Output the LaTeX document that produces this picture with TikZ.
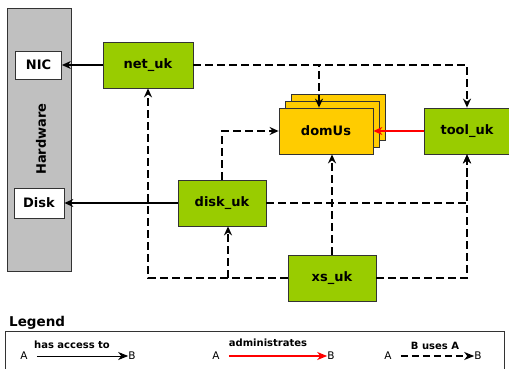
\documentclass[tikz,border=0pt]{standalone}
\usepackage{fontspec}
\setmainfont{DejaVu Sans}
\usetikzlibrary{arrows.meta}
\definecolor{ukgreen}{HTML}{99CC00}
\definecolor{domyellow}{HTML}{FFCC00}
\definecolor{hwgray}{HTML}{C0C0C0}
\definecolor{edge}{HTML}{333333}
\tikzset{
  ukbox/.style={draw=edge, line width=0.8pt, fill=ukgreen, minimum width=89pt, minimum height=46pt,
    inner sep=0pt, font=\fontsize{13}{15}\selectfont\bfseries},
  dombox/.style={draw=edge, line width=0.8pt, fill=domyellow, minimum width=94pt, minimum height=46pt,
    inner sep=0pt, font=\fontsize{13}{15}\selectfont\bfseries},
  hwbox/.style={draw=edge, line width=0.8pt, fill=white, inner sep=0pt, font=\fontsize{13}{15}\selectfont\bfseries},
  tip/.style={-{Stealth[length=9pt,width=8pt,inset=3pt]}},
  access/.style={tip, line width=1.1pt, black},
  admin/.style={tip, line width=1.1pt, red},
  dep/.style={tip, line width=1.5pt, black, dash pattern=on 8pt off 4pt},
  legtext/.style={font=\fontsize{10}{12}\selectfont\bfseries, inner sep=0pt},
  legab/.style={font=\fontsize{10.5}{12}\selectfont, inner sep=0pt},
  legarrow/.style={-{Stealth[length=10pt,width=8pt,inset=3pt]}, line width=1pt},
}
\begin{document}
\begin{tikzpicture}[x=1pt,y=-1pt]
\useasboundingbox (0,0) rectangle (509,369);

% hardware column with its devices
\node[draw=edge, line width=0.8pt, fill=hwgray, minimum width=64pt, minimum height=263pt, inner sep=0pt] (hw) at (39,139.5) {};
\node[rotate=90, font=\fontsize{13}{15}\selectfont\bfseries] (hwlabel) at (41,139) {Hardware};
\node[hwbox, minimum width=46pt, minimum height=28pt] (nic) at (38.5,65) {NIC};
\node[hwbox, minimum width=50pt, minimum height=30pt] (disk) at (39,203) {Disk};

% driver and tool domains
\node[ukbox, minimum width=90pt] (net) at (148,65) {net\_uk};
\node[ukbox, minimum width=88pt] (diskuk) at (222,203) {disk\_uk};
\node[ukbox, minimum width=88pt] (xs) at (332,278) {xs\_uk};
\node[ukbox, minimum width=86pt] (tool) at (467,131) {tool\_uk};

% stack of guest domains
\node[dombox] (dom3) at (338,117) {};
\node[dombox] (dom2) at (332,124) {};
\node[dombox] (domUs) at (326,131) {domUs};

% hardware access
\draw[access] (net.west) -- (nic.east);
\draw[access] (diskuk.west) -- (disk.east);

% administration
\draw[admin] (tool.west) -- (domUs.east);

% usage relations
\coordinate (domtop) at ([xshift=-7pt]domUs.north);
\coordinate (diskin) at ([xshift=6pt]diskuk.south);
\draw[dep] (net.east) -| (tool.north);
\draw[dep] (net.east) -| (domtop);
\draw[dep] (diskuk.north) |- (domUs.west);
\draw[dep] (diskuk.east) -| (tool.south);
\draw[dep] (xs.east) -| (tool.south);
\draw[dep] (xs.north) -- (xs.north |- domUs.south);
\draw[dep] (xs.west) -| (net.south);
\draw[dep] (xs.west) -| (diskin);

% legend
\node[anchor=west, font=\fontsize{13.5}{15}\selectfont\bfseries, inner sep=0pt] (legtitle) at (9,323) {Legend};
\draw[edge, line width=0.8pt] (5,331) rectangle (504,375);

\node[legab] (a1) at (24,356) {A};
\node[legab] (b1) at (132,356) {B};
\draw[legarrow, black] (a1.east) ++(9pt,0) coordinate (a1s) (a1s) -- (b1.west);
\node[legtext] (l1) at (72,345) {has access to};

\node[legab] (a2) at (216,356) {A};
\node[legab] (b2) at (331,356) {B};
\draw[legarrow, red, line width=1.3pt] (a2.east) ++(9pt,0) coordinate (a2s) (a2s) -- (b2.west);
\node[legtext] (l2) at (268,343) {administrates};

\node[legab] (a3) at (388,356) {A};
\node[legab] (b3) at (478,356) {B};
\draw[legarrow, black, line width=1.3pt, dash pattern=on 7pt off 4pt] (a3.east) ++(9pt,0) coordinate (a3s) (a3s) -- (b3.west);
\node[legtext] (l3) at (435,346) {B uses A};
\end{tikzpicture}
\end{document}
